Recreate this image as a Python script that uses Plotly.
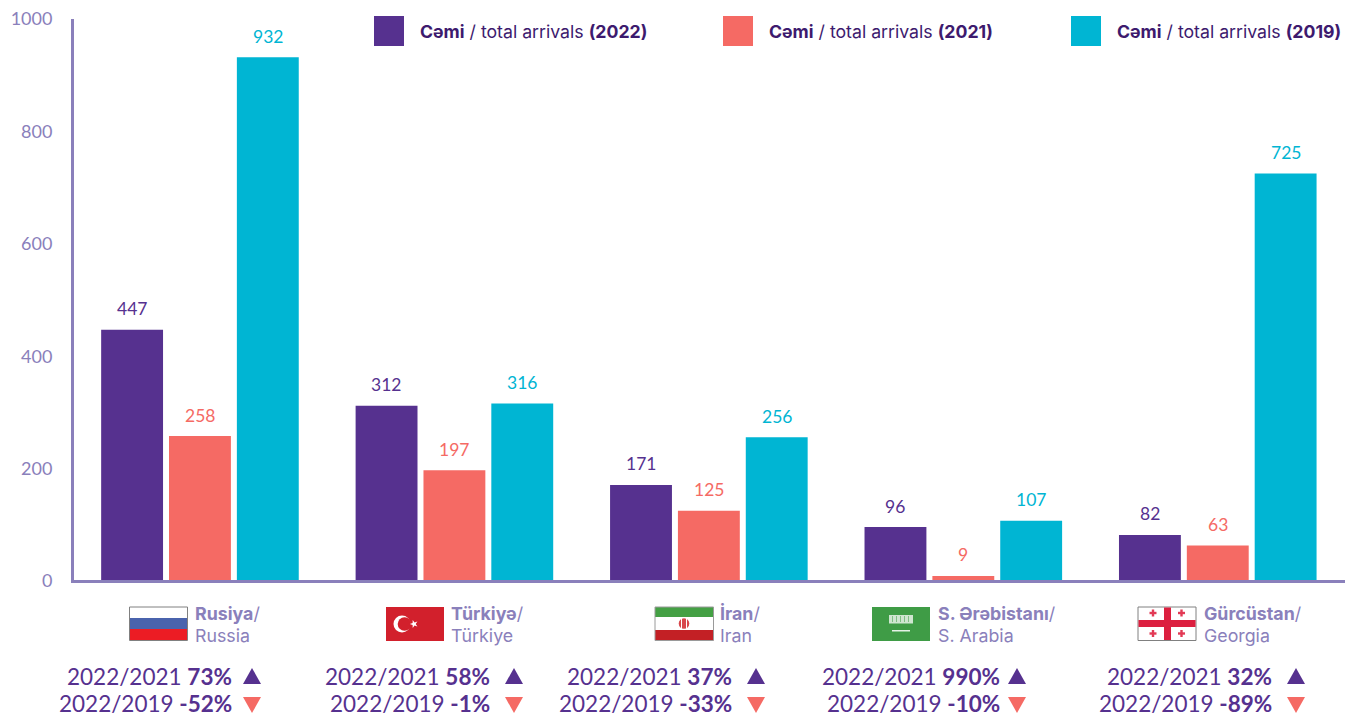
import math
import plotly.graph_objects as go

countries = ["Rusiya", "Türkiyə", "İran", "S. Ərəbistanı", "Gürcüstan"]
countries_en = ["Russia", "Türkiye", "Iran", "S. Arabia", "Georgia"]
arrivals_2022 = [447, 312, 171, 96, 82]
arrivals_2021 = [258, 197, 125, 9, 63]
arrivals_2019 = [932, 316, 256, 107, 725]
change_2021 = ["73%", "58%", "37%", "990%", "32%"]
change_2019 = ["-52%", "-1%", "-33%", "-10%", "-89%"]
series_names = ["(2022)", "(2021)", "(2019)"]
y_ticks = [0, 200, 400, 600, 800, 1000]

PURPLE, CORAL, CYAN = "#56318F", "#F56A64", "#00B5D3"
AXIS = "#8A80BB"
DARK = "#3D1A6E"
FONT = "Lato"
WIDE = "Inter"
L, R, T, B = 74, 1345, 19, 581

def X(px): return (px - L) / (R - L)
def Y(py): return (B - py) / (B - T)

fig = go.Figure()
series = [(arrivals_2022, PURPLE), (arrivals_2021, CORAL), (arrivals_2019, CYAN)]
for name, (vals, col) in zip(series_names, series):
    fig.add_bar(x=countries, y=vals, name=name, marker_color=col, marker_line_width=0)

ann, shp = [], []
def text(px, py, s, size, color, anchor="left", family=FONT, height=None):
    ann.append(dict(x=X(px), y=Y(py), xref="paper", yref="paper", text=s, showarrow=False,
                    xanchor=anchor, yanchor="middle", borderpad=0, borderwidth=0, height=height,
                    font=dict(family=family, size=size, color=color)))
def rect(x0, y0, x1, y1, fill, line=None):
    shp.append(dict(type="rect", xref="paper", yref="paper", x0=X(x0), x1=X(x1), y0=Y(y0), y1=Y(y1),
                    fillcolor=fill, line=dict(width=1 if line else 0, color=line or fill)))
def circle(cx, cy, r, fill):
    shp.append(dict(type="circle", xref="paper", yref="paper", x0=X(cx - r), x1=X(cx + r),
                    y0=Y(cy - r), y1=Y(cy + r), fillcolor=fill, line=dict(width=0)))
def poly(pts, fill):
    d = "M " + " L ".join(f"{X(px)} {Y(py)}" for px, py in pts) + " Z"
    shp.append(dict(type="path", xref="paper", yref="paper", path=d, fillcolor=fill, line=dict(width=0)))
def tri(x0, x1, ytop, ybot, up, fill):
    if up:
        poly([(x0, ybot), (x1, ybot), ((x0 + x1) / 2, ytop)], fill)
    else:
        poly([(x0, ytop), (x1, ytop), ((x0 + x1) / 2, ybot)], fill)

# baseline, drawn over the foot of the bars
rect(71, 580, 1345, 583, AXIS)

# value labels
for i, c in enumerate(countries):
    for j, (vals, col) in enumerate(series):
        ann.append(dict(x=c, y=vals[i], xref="x", yref="y", text=str(vals[i]), showarrow=False,
                        xshift=(j - 1) * 68, yshift=9.5, yanchor="bottom", borderpad=0,
                        font=dict(family=FONT, size=17.5, color=col)))

# legend
for sx, tx, yr, col in zip([374, 723, 1071], [420, 769, 1117], series_names,
                           [PURPLE, CORAL, CYAN]):
    rect(sx, 16, sx + 30, 46, col)
    text(tx, 32, f"<b>Cəmi</b> / total arrivals <b>{yr}</b>", 17.7, DARK, family=WIDE)

# category names
name_x = [195, 451, 720, 938, 1204]
for nx, az, en in zip(name_x, countries, countries_en):
    text(nx, 613, f"<b>{az}</b>/", 17.8, AXIS, family=WIDE)
    text(nx, 635, en, 17.8, AXIS, family=WIDE)

# percent rows
right_x = [232, 490, 732, 1000, 1272]
tri_x = [243, 505, 747, 1008, 1287]
for rx, tx, a, b in zip(right_x, tri_x, change_2021, change_2019):
    text(rx, 676, f"2022/2021 <b>{a}</b>", 22.5, PURPLE, "right", height=24)
    text(rx, 703, f"2022/2019 <b>{b}</b>", 22.5, PURPLE, "right", height=24)
    tri(tx, tx + 18, 668, 684, True, PURPLE)
    tri(tx, tx + 18, 697, 713, False, CORAL)

# flags
GR = "#808080"
# Russia
rect(129.5, 607, 187.5, 618, "#FFFFFF")
rect(129.5, 618, 187.5, 629, "#4A63AD")
rect(129.5, 629, 187.5, 640, "#EC1C24")
rect(129.5, 607, 187.5, 640.5, "rgba(0,0,0,0)", GR)
# Türkiye
rect(386, 607, 444, 641, "#D2202C")
circle(402, 624, 8.5, "#FFFFFF")
circle(404.5, 624, 6.8, "#D2202C")
star = []
for k in range(10):
    r = 4.2 if k % 2 == 0 else 1.7
    a = -math.pi / 2 + k * math.pi / 5 - math.pi / 2
    star.append((414 + r * math.cos(a), 624 + r * math.sin(a)))
poly(star, "#FFFFFF")
# Iran
rect(655, 607, 713.5, 617, "#44A044")
rect(655, 617, 713.5, 630, "#FFFFFF")
rect(655, 630, 713.5, 640.5, "#C32025")
circle(684, 623.5, 5.3, "#D8474C")
rect(681, 618, 682, 629, "#FFFFFF")
rect(686, 618, 687, 629, "#FFFFFF")
rect(655, 607, 713.5, 640.5, "rgba(0,0,0,0)", "#9A9A9A")
# Saudi Arabia
rect(872, 607, 930, 641, "#3F9C46")
rect(889, 615, 913, 623.5, "#CFE6D0")
for gx in (892, 896, 900, 904, 908):
    rect(gx, 616, gx + 1, 622, "#7FBE84")
rect(892, 630, 910, 631.5, "#E5F2E6")
# Georgia
rect(1138, 607, 1196, 640.5, "#FFFFFF", GR)
rect(1164, 607.5, 1171, 640, "#DC1F3F")
rect(1138.5, 620, 1195.5, 627, "#DC1F3F")
for gx in (1153, 1181.5):
    for gy in (613, 633.5):
        rect(gx - 3.5, gy - 1.2, gx + 3.5, gy + 1.2, "#E23A55")
        rect(gx - 1.2, gy - 3.5, gx + 1.2, gy + 3.5, "#E23A55")

fig.update_layout(
    width=1345, height=715, autosize=False, showlegend=False,
    margin=dict(l=L, r=1345 - R, t=T, b=715 - B, pad=0),
    paper_bgcolor="white", plot_bgcolor="white",
    barmode="group", bargap=0.2, bargroupgap=0.088,
    font=dict(family=FONT),
    annotations=ann, shapes=shp,
    xaxis=dict(range=[-0.495, 4.5], showticklabels=False, ticks="", showgrid=False, zeroline=False,
               showline=False),
    yaxis=dict(range=[0, 1000], tickvals=y_ticks, showgrid=False, zeroline=False,
               showline=True, linecolor=AXIS, linewidth=3, ticks="",
               ticklabelstandoff=15, tickfont=dict(family=FONT, size=18, color=AXIS)),
)
fig.write_html("out.html", config={"displayModeBar": False},
               post_script="document.body.style.margin='0';")
